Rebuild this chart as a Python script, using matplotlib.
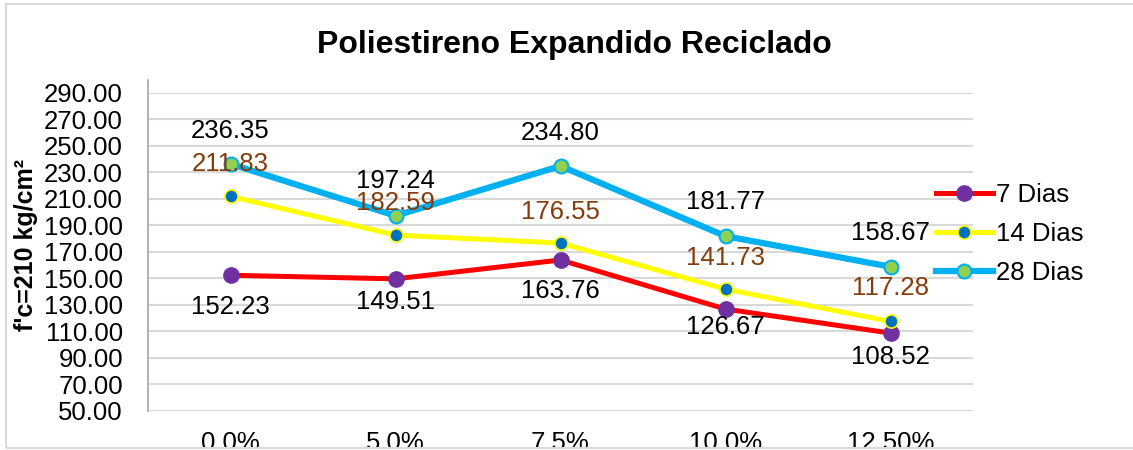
import matplotlib
matplotlib.use("Agg")
import matplotlib.pyplot as plt
from matplotlib.patches import Rectangle

plt.rcParams['font.family'] = ['Liberation Sans', 'DejaVu Sans']

categories = ["0.0%", "5.0%", "7.5%", "10.0%", "12.50%"]
dias7 = [152.23, 149.51, 163.76, 126.67, 108.52]
dias14 = [211.83, 182.59, 176.55, 141.73, 117.28]
dias28 = [236.35, 197.24, 234.80, 181.77, 158.67]
yticks = [50, 70, 90, 110, 130, 150, 170, 190, 210, 230, 250, 270, 290]

# label offsets in pixels (layout only)
off7 = [-32, -23, -31, -18, -24]
off14 = [32, 32, 31, 31, 33]
off28 = [33, 35, 33, 34, 34]

W, H = 1133, 450
fig = plt.figure(figsize=(W/100, H/100), dpi=100)
ax = fig.add_axes([148/W, 1-410.5/H, (973-148)/W, (410.5-93)/H])

x = list(range(len(categories)))
ax.set_xlim(-0.5, len(categories)-0.5)
ax.set_ylim(50, 290)

l7, = ax.plot(x, dias7, color='#FF0000', lw=3.6, marker='o', ms=11,
              mfc='#7030A0', mec='#7030A0', label='7 Dias', zorder=3)
l14, = ax.plot(x, dias14, color='#FFFF00', lw=3.6, marker='o', ms=9.5,
               mfc='#0070C0', mec='#FFFF00', mew=1.2, label='14 Dias', zorder=4)
l28, = ax.plot(x, dias28, color='#00B0F0', lw=4.5, marker='o', ms=10,
               mfc='#92D050', mec='#00B0F0', mew=1.5, label='28 Dias', zorder=5)

fs = 18.5
for xi, v, o in zip(x, dias7, off7):
    ax.annotate(f"{v:.2f}", (xi, v), xytext=(0, o), textcoords='offset pixels',
                ha='center', va='center', fontsize=fs, color='black', zorder=6)
for xi, v, o in zip(x, dias14, off14):
    ax.annotate(f"{v:.2f}", (xi, v), xytext=(0, o), textcoords='offset pixels',
                ha='center', va='center', fontsize=fs, color='#843C0C', zorder=6)
for xi, v, o in zip(x, dias28, off28):
    ax.annotate(f"{v:.2f}", (xi, v), xytext=(0, o), textcoords='offset pixels',
                ha='center', va='center', fontsize=fs, color='black', zorder=6)

ax.set_yticks(yticks)
ax.set_yticklabels([f"{t:.2f}" for t in yticks], fontsize=fs)
ax.set_xticks(x)
ax.set_xticklabels(categories, fontsize=fs)
ax.tick_params(axis='both', length=0)
ax.tick_params(axis='y', pad=18)
ax.tick_params(axis='x', pad=15)
ax.grid(axis='y', color='#D9D9D9', lw=1.5)
ax.set_axisbelow(True)
for s in ['top', 'right', 'bottom']:
    ax.spines[s].set_visible(False)
ax.spines['left'].set_color('#A6A6A6')
ax.spines['left'].set_linewidth(1.2)
ax.spines['left'].set_bounds(50, 300)

ax.set_ylabel("f'c=210 kg/cm²", fontsize=18, fontweight='bold')
ax.yaxis.label.set_verticalalignment('center')
ax.yaxis.set_label_coords(-(148-26)/825, (410.5-245)/317.5)

fig.text(574/W, 1-45/H, "Poliestireno Expandido Reciclado", ha='center', va='center',
         fontsize=23, fontweight='bold')

fig.legend(handles=[l7, l14, l28], loc='center left', bbox_to_anchor=(936/W, 1-234/H),
           frameon=False, fontsize=fs, handlelength=2.2, labelspacing=0.6,
           handletextpad=0.15, borderaxespad=0, borderpad=0)

fig.patches.append(Rectangle((0, 0), 1, 2/H, transform=fig.transFigure,
                             facecolor='white', edgecolor='none', zorder=5))
fig.patches.append(Rectangle((6/W, 2/H), 1.2, 1-6/H, transform=fig.transFigure,
                             fill=False, edgecolor='#D9D9D9', lw=1.5, zorder=6))

fig.savefig("out.png", dpi=100)
